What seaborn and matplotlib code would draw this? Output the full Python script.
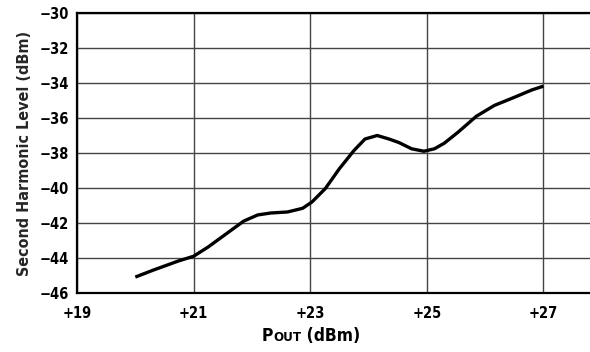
import matplotlib
matplotlib.use("Agg")
import matplotlib.pyplot as plt
import seaborn as sns
import pandas as pd
from matplotlib.offsetbox import TextArea, HPacker, AnchoredOffsetbox

pout = [20.0, 20.31, 20.74, 21.0, 21.25, 21.58, 21.86, 22.1, 22.32, 22.61, 22.87,
        23.03, 23.26, 23.5, 23.75, 23.94, 24.15, 24.35, 24.52, 24.74, 24.95, 25.13,
        25.3, 25.54, 25.85, 26.16, 26.5, 26.8, 27.0]
harm = [-45.09, -44.69, -44.17, -43.9, -43.37, -42.57, -41.89, -41.54, -41.43, -41.37, -41.16,
        -40.8, -40.03, -38.9, -37.86, -37.2, -37.0, -37.2, -37.4, -37.76, -37.9, -37.76,
        -37.44, -36.8, -35.9, -35.28, -34.82, -34.4, -34.18]
xticks = [19, 21, 23, 25, 27]
yticks = [-30, -32, -34, -36, -38, -40, -42, -44, -46]

sns.set_theme(style="white")
plt.rcParams['font.family'] = ['DejaVu Sans']
plt.rcParams['font.stretch'] = 'condensed'
plt.rcParams['font.weight'] = 'bold'

df = pd.DataFrame({"Pout": pout, "H2": harm})

fig = plt.figure(figsize=(5.9, 3.52), dpi=100)
ax = fig.add_axes([77/590, 1 - 293/352, 1 - 77/590, (293 - 13)/352])

sns.lineplot(data=df, x="Pout", y="H2", ax=ax, color="black", linewidth=2.4, sort=False)
for ln in ax.get_lines():
    ln.set_solid_joinstyle("round")
    ln.set_solid_capstyle("butt")

ax.set_xlim(19, 19 + (590 - 77) / 58.3)
ax.set_ylim(-46, -30)
ax.set_xticks(xticks)
ax.set_xticklabels([f"+{v}" for v in xticks], fontsize=10.5, fontweight='bold')
ax.set_yticks(yticks)
ax.set_yticklabels([f"\u2212{abs(v)}" for v in yticks], fontsize=10.5, fontweight='bold')
ax.grid(True, color="#444444", linewidth=1.0)
for s in ["left", "top", "bottom"]:
    ax.spines[s].set_color("black")
    ax.spines[s].set_linewidth(1.6)
ax.spines["right"].set_visible(False)
ax.tick_params(length=0, pad=6, colors="black")
ax.tick_params(axis="x", pad=9)
ax.set_xlabel("")
ax.set_ylabel("Second Harmonic Level (dBm)", fontsize=11.5, fontweight='bold', labelpad=5)

parts = [TextArea("P", textprops=dict(size=12.5, weight='bold', color='black')),
         TextArea("OUT", textprops=dict(size=9.5, weight='bold', color='black')),
         TextArea(" (dBm)", textprops=dict(size=12.5, weight='bold', color='black'))]
box = HPacker(children=parts, align="baseline", pad=0, sep=0)
anch = AnchoredOffsetbox(loc="center", child=box, frameon=False,
                         bbox_to_anchor=(311/590, 1 - 336/352), bbox_transform=fig.transFigure,
                         borderpad=0, pad=0)
fig.add_artist(anch)

fig.savefig("out.png", dpi=100)
